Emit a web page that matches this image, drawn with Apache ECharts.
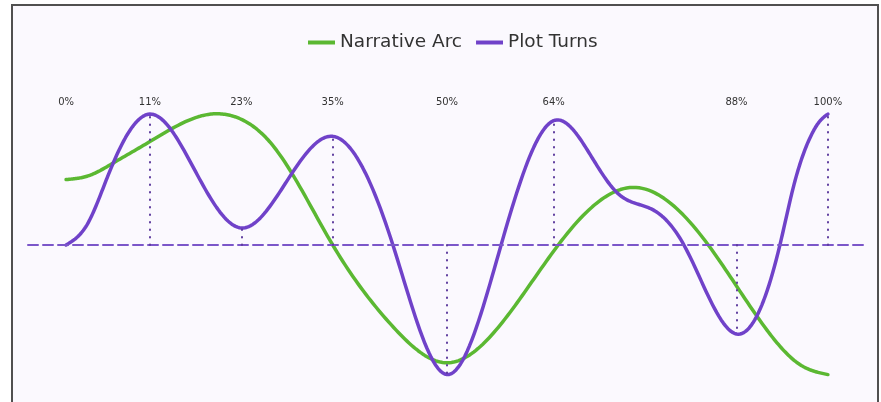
<!DOCTYPE html>
<html>
<head>
<meta charset="utf-8">
<title>Narrative Arc</title>
<script src="https://cdn.jsdelivr.net/npm/echarts@6/dist/echarts.min.js"></script>
<style>
	html, body { margin: 0; padding: 0; background: #ffffff; }
	#frame {
		position: absolute; left: 11px; top: 4px; width: 864px; height: 410px;
		border: 2px solid #505050; border-bottom: none; background: #fbf9fe;
	}
	#main { position: absolute; left: 0; top: 0; width: 881px; height: 402px; }
</style>
</head>
<body>
<div id="frame"></div>
<div id="main"></div>
<script>
// smooth story arc, [progress %, level]
var narrativeArc = [
	[0, 0.50], [3, 0.53], [6, 0.62], [11, 0.79], [19, 1.00], [23, 0.96], [27, 0.77], [35, 0], [43, -0.63],
	[50, -0.90], [57, -0.61], [64.6, 0], [74.4, 0.44], [84.3, 0], [92, -0.65], [96.5, -0.92], [100, -0.99]
];
// plot turns curve, [progress %, level]
var plotTurns = [
	[0, 0], [2.8, 0.16], [5.5, 0.53], [11, 1.00], [17, 0.56], [23, 0.13], [29, 0.49], [35, 0.83],
	[42.9, 0], [50, -0.99], [57.1, 0], [64, 0.95], [68.8, 0.69], [72.5, 0.39], [77, 0.27],
	[81.1, 0], [88, -0.68], [93.7, 0], [95.5, 0.45], [97.5, 0.80], [99, 0.95], [100, 1.00]
];
// turning points (labels on top + dotted drop lines)
var turnX = [0, 11, 23, 35, 50, 64, 88, 100];
var turnY = [0, 1.00, 0.13, 0.83, -0.99, 0.95, -0.68, 1.00];

var green = '#5bb832', purple = '#7042c9';

//natural cubic spline through the points (drawing only, like matplotlib)
function makeSpline(pts) {
	var n = pts.length, xs = [], ys = [], h = [], al = [], l = [1], mu = [0], z = [0];
	var b = [], c = [], d = [];
	for (var i = 0; i < n; i++) { xs.push(pts[i][0]); ys.push(pts[i][1]); }
	for (i = 0; i < n - 1; i++) h[i] = xs[i + 1] - xs[i];
	for (i = 1; i < n - 1; i++) {
		al[i] = 3 / h[i] * (ys[i + 1] - ys[i]) - 3 / h[i - 1] * (ys[i] - ys[i - 1]);
		l[i] = 2 * (xs[i + 1] - xs[i - 1]) - h[i - 1] * mu[i - 1];
		mu[i] = h[i] / l[i];
		z[i] = (al[i] - h[i - 1] * z[i - 1]) / l[i];
	}
	c[n - 1] = 0;
	for (var j = n - 2; j >= 0; j--) {
		c[j] = (j === 0 ? 0 : z[j]) - (j === 0 ? 0 : mu[j]) * c[j + 1];
		b[j] = (ys[j + 1] - ys[j]) / h[j] - h[j] * (c[j + 1] + 2 * c[j]) / 3;
		d[j] = (c[j + 1] - c[j]) / (3 * h[j]);
	}
	return { xs: xs, ys: ys, b: b, c: c, d: d };
}

function curveSeries(name, pts, color, z) {
	var sp = makeSpline(pts);
	return {
		name: name,
		type: 'custom',
		coordinateSystem: 'cartesian2d',
		z: z,
		silent: true,
		itemStyle: { color: color },
		data: [pts[0]],
		renderItem: function(params, api) {
			var out = [];
			for (var j = 0; j < sp.xs.length - 1; j++) {
				var x0 = sp.xs[j], w = sp.xs[j + 1] - x0;
				for (var k = 0; k <= 24; k++) {
					var dx = w * k / 24;
					var y = sp.ys[j] + sp.b[j] * dx + sp.c[j] * dx * dx + sp.d[j] * dx * dx * dx;
					out.push(api.coord([x0 + dx, y]));
				}
			}
			return {
				type: 'polyline',
				shape: { points: out },
				style: { stroke: color, lineWidth: 3.5, fill: 'none', lineJoin: 'round', lineCap: 'round' }
			};
		}
	};
}

//dotted lines from baseline to each turn
var guideData = [], markData = [{ yAxis: 0, lineStyle: { type: [10, 5], width: 2, color: '#7b56c9' } }];
for (var i = 0; i < turnX.length; i++) {
	guideData.push([turnX[i], turnY[i]]);
	markData.push([
		{ coord: [turnX[i], 0] },
		{ coord: [turnX[i], turnY[i]] }
	]);
}

var myChart = echarts.init(document.getElementById('main'));
var option = {
	backgroundColor: 'transparent',
	animation: false,
	color: [green, purple],
	textStyle: { fontFamily: 'DejaVu Sans' },
	legend: {
		data: ['Narrative Arc', 'Plot Turns'],
		icon: 'rect',
		left: 303,
		top: 28,
		itemWidth: 27,
		itemHeight: 4,
		itemGap: 14,
		itemTextGap: 11,
		textStyle: { fontSize: 18.5, color: '#333333', fontFamily: 'DejaVu Sans' }
	},
	grid: { left: 28, right: 15, top: 101, height: 288, outerBoundsMode: 'none' },
	xAxis: [
		{
			type: 'value', min: -5, max: 105,
			axisLine: { show: false }, axisTick: { show: false },
			axisLabel: { show: false }, splitLine: { show: false }
		},
		{
			type: 'value', min: -5, max: 105, position: 'top',
			axisLine: { show: false }, axisTick: { show: false }, splitLine: { show: false },
			axisLabel: {
				customValues: turnX,
				formatter: '{value}%',
				margin: -6,
				fontSize: 10,
				color: '#333333'
			}
		}
	],
	yAxis: {
		type: 'value', min: -1.1, max: 1.1, show: false,
		splitLine: { show: false }
	},
	series: [
		{
			name: 'turns',
			type: 'line',
			data: guideData,
			symbol: 'none',
			silent: true,
			z: 1,
			lineStyle: { opacity: 0 },
			markLine: {
				silent: true,
				symbol: ['none', 'none'],
				label: { show: false },
				lineStyle: { type: [0.5, 7], cap: 'round', width: 2, color: '#5e3c9e' },
				data: markData
			}
		},
		curveSeries('Narrative Arc', narrativeArc, green, 2),
		curveSeries('Plot Turns', plotTurns, purple, 3)
	]
};

myChart.setOption(option);
</script>
</body>
</html>
